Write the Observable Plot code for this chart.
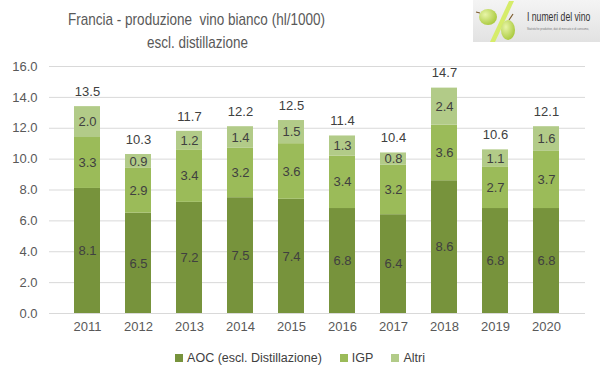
<!DOCTYPE html>
<html>
<head>
<meta charset="utf-8">
<script src="https://cdn.jsdelivr.net/npm/d3@7"></script>
<script src="https://cdn.jsdelivr.net/npm/@observablehq/plot@0.6"></script>
<style>
  html, body { margin: 0; padding: 0; background: #fff; }
  #wrap { position: relative; width: 600px; height: 378px; overflow: hidden; font-family: "Liberation Sans", Arial, sans-serif; }
  #title { position: absolute; left: 0; top: 0; }
  #logo { position: absolute; left: 473px; top: 0; width: 127px; height: 42px; }
  #chart { position: absolute; left: 0; top: 0; }
  #legend { position: absolute; left: 0; width: 600px; top: 351px; text-align: center; font-size: 12.5px; color: #404040; }
  #legend span.item { margin: 0 9px; }
  #legend span.sw { display: inline-block; width: 8px; height: 8px; margin-right: 4px; vertical-align: 0px; }
</style>
</head>
<body>
<div id="wrap">
  <div id="chart"></div>
  <svg id="title" width="400" height="56">
    <text x="196.5" y="25" text-anchor="middle" font-family="Liberation Sans, Arial, sans-serif" font-size="17" fill="#595959" textLength="257" lengthAdjust="spacingAndGlyphs">Francia - produzione&#160; vino bianco (hl/1000)</text>
    <text x="197.5" y="48" text-anchor="middle" font-family="Liberation Sans, Arial, sans-serif" font-size="17" fill="#595959" textLength="101" lengthAdjust="spacingAndGlyphs">escl. distillazione</text>
  </svg>
  <svg id="logo" viewBox="0 0 127 42" width="127" height="42">
    <defs>
      <linearGradient id="bg" x1="0" x2="0" y1="0" y2="1">
        <stop offset="0" stop-color="#f4f4f4"/><stop offset="1" stop-color="#e2e2e2"/>
      </linearGradient>
      <radialGradient id="gr" cx="0.35" cy="0.35" r="0.7">
        <stop offset="0" stop-color="#e8f5a8"/><stop offset="1" stop-color="#a9c93c"/>
      </radialGradient>
    </defs>
    <rect x="0" y="0" width="127" height="42" fill="url(#bg)"/>
    <path d="M36 1 L41 1 L22 42 L17 42 Z" fill="#d6ec6a"/>
    <ellipse cx="15" cy="17" rx="9" ry="8" fill="url(#gr)"/>
    <path d="M7 13 L3 12" stroke="#7a5a2a" stroke-width="1.2"/>
    <ellipse cx="35" cy="30" rx="7" ry="10" fill="url(#gr)"/>
    <path d="M36 20 L40 14" stroke="#7a5a2a" stroke-width="1.2"/>
    <text transform="translate(54,21) scale(0.64,1)" x="0" y="0" font-family="Liberation Sans, sans-serif" font-size="13.5" fill="#333">I numeri del vino</text>
    <text transform="translate(54,30) scale(0.85,1)" x="0" y="0" font-family="Liberation Sans, sans-serif" font-size="3.2" fill="#777">Statistiche produttive, dati di mercato e di consumo,</text>
  </svg>
  <div id="legend"></div>
</div>
<script>
const years = ["2011","2012","2013","2014","2015","2016","2017","2018","2019","2020"];
const aoc   = [8.1, 6.5, 7.2, 7.5, 7.4, 6.8, 6.4, 8.6, 6.8, 6.8];
const igp   = [3.3, 2.9, 3.4, 3.2, 3.6, 3.4, 3.2, 3.6, 2.7, 3.7];
const altri = [2.0, 0.9, 1.2, 1.4, 1.5, 1.3, 0.8, 2.4, 1.1, 1.6];
const totals = [13.5, 10.3, 11.7, 12.2, 12.5, 11.4, 10.4, 14.7, 10.6, 12.1];
const seriesNames = ["AOC (escl. Distillazione)", "IGP", "Altri"];
const colors = ["#77933c", "#9bbb59", "#b2cb88"];
const yTicks = [0, 2, 4, 6, 8, 10, 12, 14, 16];

const seriesVals = [aoc, igp, altri];
const rows = [];
years.forEach((yr, i) => {
  seriesNames.forEach((s, k) => rows.push({year: yr, series: s, value: seriesVals[k][i]}));
});
const totalRows = years.map((yr, i) => ({year: yr, total: totals[i], top: aoc[i] + igp[i] + altri[i]}));

const chart = Plot.plot({
  width: 600,
  height: 340,
  marginLeft: 49,
  marginRight: 15,
  marginTop: 66,
  marginBottom: 27,
  style: {fontFamily: "Liberation Sans, Arial, sans-serif", fontSize: "13px", color: "#595959", background: "transparent"},
  x: {domain: years, padding: 0.49, label: null, tickSize: 0, tickPadding: 8},
  y: {domain: [0, 16], label: null, ticks: yTicks, tickSize: 0, tickPadding: 12, tickFormat: d => d.toFixed(1)},
  color: {domain: seriesNames, range: colors},
  marks: [
    Plot.ruleY(yTicks, {stroke: "#d9d9d9", strokeWidth: 1}),
    Plot.barY(rows, Plot.stackY({x: "year", y: "value", fill: "series", order: seriesNames})),
    Plot.text(rows, Plot.stackY({x: "year", y: "value", z: "series", order: seriesNames, text: d => d.value.toFixed(1), fill: "#404040", fontSize: 13})),
    Plot.text(totalRows, {x: "year", y: "top", text: d => d.total.toFixed(1), dy: -15, fill: "#404040", fontSize: 13})
  ]
});
document.getElementById("chart").appendChild(chart);

const leg = document.getElementById("legend");
seriesNames.forEach((s, k) => {
  const item = document.createElement("span");
  item.className = "item";
  const sw = document.createElement("span");
  sw.className = "sw";
  sw.style.background = colors[k];
  item.appendChild(sw);
  item.appendChild(document.createTextNode(s));
  leg.appendChild(item);
});
</script>
</body>
</html>
